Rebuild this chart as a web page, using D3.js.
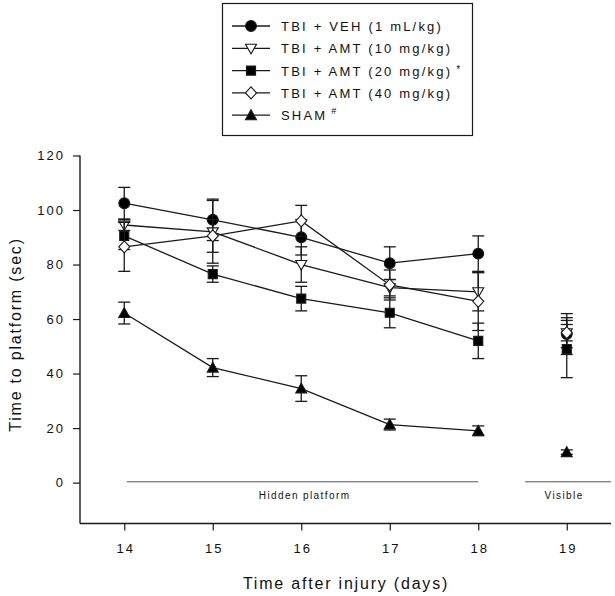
<!DOCTYPE html>
<html><head><meta charset="utf-8">
<script src="https://cdn.jsdelivr.net/npm/d3@7"></script>
<style>
body{margin:0;background:#fff;}
text{font-family:"Liberation Sans",Arial,sans-serif;fill:#111;}
</style></head>
<body><svg id="c" width="615" height="596"></svg>
<script>
const days = [14, 15, 16, 17, 18, 19];
const seriesNames = ["TBI + VEH (1 mL/kg)", "TBI + AMT (10 mg/kg)", "TBI + AMT (20 mg/kg)", "TBI + AMT (40 mg/kg)", "SHAM"];
const vehMean = [102.5, 96.4, 90.0, 80.5, 84.0, 54.5];
const vehSE   = [5.8, 7.6, 6.5, 6.0, 6.5, 7.5];
const amt10Mean = [94.5, 92.0, 80.0, 71.5, 70.0, 55.0];
const amt10SE   = [2.0, 11.5, 6.5, 3.0, 7.0, 5.5];
const amt20Mean = [90.5, 76.5, 67.5, 62.3, 52.0, 49.0];
const amt20SE   = [5.0, 3.0, 4.5, 5.5, 6.5, 10.5];
const amt40Mean = [86.5, 90.5, 96.0, 72.5, 66.5, 55.0];
const amt40SE   = [9.0, 6.0, 5.7, 5.5, 10.7, 3.0];
const shamMean = [62.2, 42.2, 34.5, 21.3, 19.0, 11.2];
const shamSE   = [4.0, 3.3, 4.7, 2.0, 1.8, 0.8];
const yTicks = [0, 20, 40, 60, 80, 100, 120];
const phaseLabels = ["Hidden platform", "Visible"];
const phaseRanges = [[14.03, 18.0], [18.53, 19.5]];

const series = [
  {name: seriesNames[0], mean: vehMean, se: vehSE, shape: "circle", fill: "#000", note: ""},
  {name: seriesNames[1], mean: amt10Mean, se: amt10SE, shape: "tridown", fill: "#fff", note: ""},
  {name: seriesNames[2], mean: amt20Mean, se: amt20SE, shape: "square", fill: "#000", note: "*"},
  {name: seriesNames[3], mean: amt40Mean, se: amt40SE, shape: "diamond", fill: "#fff", note: ""},
  {name: seriesNames[4], mean: shamMean, se: shamSE, shape: "triup", fill: "#000", note: "#"}
];

const svg = d3.select("#c");
const x = d3.scaleLinear().domain([13.5, 19.5]).range([80, 611]);
const y = d3.scaleLinear().domain([-15, 120]).range([523.5, 155.5]);
const ink = "#1a1a1a";

function sym(shape){
  if (shape === "circle") return d3.symbol().type(d3.symbolCircle).size(92)();
  if (shape === "square") return d3.symbol().type(d3.symbolSquare).size(82)();
  if (shape === "diamond") return "M0,-6L5.5,0L0,6L-5.5,0Z";
  if (shape === "tridown") return "M-5.5,-4L5.5,-4L0,5.5Z";
  if (shape === "triup") return "M-5.5,4.5L5.5,4.5L0,-5.5Z";
}

// axes
const yAxis = d3.axisLeft(y).tickValues(yTicks).tickSize(7).tickPadding(8).tickFormat(d3.format("d"));
const gy = svg.append("g").attr("transform", "translate(80,0)").call(yAxis);
const xAxis = d3.axisBottom(x).tickValues(days).tickSize(7).tickPadding(13).tickFormat(d3.format("d"));
const gx = svg.append("g").attr("transform", "translate(0,523.5)").call(xAxis);
[gy, gx].forEach(g => {
  g.selectAll(".tick line").attr("stroke", ink).attr("stroke-width", 1.2);
  g.selectAll(".tick text").style("font-size", "13px").style("letter-spacing", "2px").attr("fill", "#111");
  g.select(".domain").remove();
});
gx.selectAll(".tick text").attr("dx", 1);
svg.append("line").attr("x1", 80).attr("x2", 80).attr("y1", y(120)).attr("y2", y(-15)).attr("stroke", ink).attr("stroke-width", 1.4);
svg.append("line").attr("x1", 80).attr("x2", x(19.5)).attr("y1", y(-15)).attr("y2", y(-15)).attr("stroke", ink).attr("stroke-width", 1.4);

// axis titles
svg.append("text").attr("transform", `translate(21,${(y(120)+y(-15))/2 - 5}) rotate(-90)`)
  .attr("text-anchor", "middle").style("font-size", "16px").style("letter-spacing", "1.8px")
  .text("Time to platform (sec)");
svg.append("text").attr("x", 346).attr("y", 589).attr("text-anchor", "middle")
  .style("font-size", "16px").style("letter-spacing", "1.8px").text("Time after injury (days)");

// phase lines
phaseRanges.forEach((r, i) => {
  svg.append("line").attr("x1", x(r[0])).attr("x2", x(r[1])).attr("y1", y(0.3)).attr("y2", y(0.3))
    .attr("stroke", "#555").attr("stroke-width", 1);
  svg.append("text").attr("x", (x(r[0]) + x(r[1])) / 2 + (i === 1 ? -4 : 2)).attr("y", 499)
    .attr("text-anchor", "middle").style("font-size", "10px").style("letter-spacing", "1.4px")
    .text(phaseLabels[i]);
});

// data
const line = d3.line().x(d => x(d.day)).y(d => y(d.v));
series.forEach(s => {
  const pts = days.map((d, i) => ({day: d, v: s.mean[i], e: s.se[i]}));
  const g = svg.append("g");
  pts.forEach(p => {
    g.append("line").attr("x1", x(p.day)).attr("x2", x(p.day)).attr("y1", y(p.v - p.e)).attr("y2", y(p.v + p.e))
      .attr("stroke", ink).attr("stroke-width", 1.3);
    [p.v - p.e, p.v + p.e].forEach(v => {
      g.append("line").attr("x1", x(p.day) - 6).attr("x2", x(p.day) + 6).attr("y1", y(v)).attr("y2", y(v))
        .attr("stroke", ink).attr("stroke-width", 1.3);
    });
  });
  g.append("path").datum(pts.filter(p => p.day <= 18)).attr("d", line)
    .attr("fill", "none").attr("stroke", ink).attr("stroke-width", 1.3);
  g.selectAll(".m").data(pts).join("path")
    .attr("transform", p => `translate(${x(p.day)},${y(p.v)})`)
    .attr("d", sym(s.shape)).attr("fill", s.fill).attr("stroke", ink).attr("stroke-width", 1.1);
});

// legend
const lg = svg.append("g");
lg.append("rect").attr("x", 222.5).attr("y", 3.5).attr("width", 250).attr("height", 132)
  .attr("fill", "#fff").attr("stroke", ink).attr("stroke-width", 1.2);
series.forEach((s, i) => {
  const ly = 26 + i * 22.3;
  lg.append("line").attr("x1", 232).attr("x2", 270).attr("y1", ly).attr("y2", ly).attr("stroke", ink).attr("stroke-width", 1.3);
  lg.append("path").attr("transform", `translate(251,${ly})`).attr("d", sym(s.shape))
    .attr("fill", s.fill).attr("stroke", ink).attr("stroke-width", 1.1);
  const t = lg.append("text").attr("x", 281).attr("y", ly + 5).style("font-size", "13px").style("letter-spacing", "2.2px").text(s.name);
  if (s.note) t.append("tspan").attr("dx", 4).attr("dy", s.note === "#" ? -6 : -3).style("font-size", s.note === "#" ? "9px" : "10px").text(s.note);
});
</script></body></html>
